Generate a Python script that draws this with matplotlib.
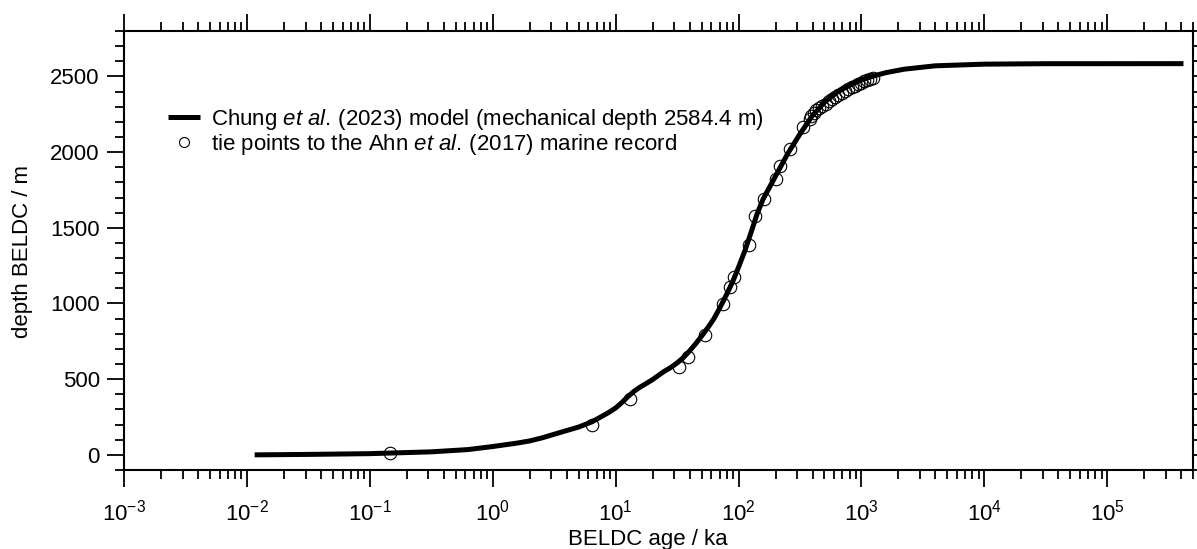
import numpy as np
import matplotlib
matplotlib.use("Agg")
import matplotlib.pyplot as plt
from matplotlib.ticker import (LogLocator, LogFormatterMathtext, MultipleLocator,
                               NullFormatter, FixedLocator)

plt.rcParams['font.family'] = ['Liberation Sans', 'DejaVu Sans']
plt.rcParams['mathtext.fontset'] = 'custom'
plt.rcParams['mathtext.rm'] = 'Liberation Sans'
plt.rcParams['mathtext.it'] = 'Liberation Sans:italic'
plt.rcParams['mathtext.bf'] = 'Liberation Sans:bold'

# Model curve (Chung et al. 2023): age in ka (read at log10 positions), depth in m
model_log_age = [-1.937, -1.5, -1.0, -0.5, -0.2, 0.0, 0.2, 0.3, 0.4, 0.549, 0.7, 0.807, 0.9,
                 0.95, 1.0, 1.05, 1.1, 1.15, 1.2, 1.25, 1.3, 1.39, 1.45, 1.5, 1.55, 1.6,
                 1.65, 1.7, 1.75, 1.8, 1.85, 1.9,
                 1.95, 2.0, 2.05, 2.1, 2.15, 2.2, 2.3, 2.4, 2.5, 2.6, 2.7, 2.8, 2.9,
                 3.0, 3.1, 3.2, 3.35, 3.6, 4.0, 4.5, 5.62]
model_depth = [0, 3, 8, 20, 35, 55, 78, 92, 112, 148, 184, 218, 260,
               283, 310, 345, 385, 420, 448, 472, 497, 549, 578, 607, 642, 685,
               733, 785, 840, 900, 975, 1055,
               1140, 1240, 1345, 1465, 1590, 1690, 1840, 1990, 2120, 2240, 2330, 2395, 2440,
               2478, 2503, 2525, 2548, 2570, 2581, 2584, 2584.4]
model_age = [10 ** v for v in model_log_age]

# Tie points to the Ahn et al. (2017) marine record
tie_age = [0.146, 6.4, 13.2, 32.6, 38.5, 53.7, 74.8, 85.9, 91.4, 121, 135, 162.5,
           202, 219, 260, 336, 380, 390, 410, 430, 455, 480, 510, 540, 575, 610,
           650, 690, 730, 780, 830, 880, 930, 990, 1050, 1110, 1180, 1250]
tie_depth = [15, 198, 367, 582, 648, 792, 994, 1110, 1172, 1385, 1578, 1689,
             1825, 1906, 2023, 2166, 2216, 2240, 2260, 2275, 2290, 2305, 2320, 2335, 2350, 2365,
             2380, 2392, 2403, 2415, 2427, 2437, 2447, 2458, 2467, 2475, 2482, 2487]

x_major_ticks = [1e-3, 1e-2, 1e-1, 1e0, 1e1, 1e2, 1e3, 1e4, 1e5]

labels = ['Chung $\\mathit{et\\ al.}\\,$(2023) model (mechanical depth 2584.4 m)',
          'tie points to the Ahn $\\mathit{et\\ al.}\\,$(2017) marine record']

W, H = 1197, 549
fig = plt.figure(figsize=(W / 100, H / 100), dpi=100)
L, R, T, B = 124, 1193.2, 31, 470
ax = fig.add_axes([L / W, (H - B) / H, (R - L) / W, (B - T) / H])

ax.plot(model_age, model_depth, color='black', lw=3.6, solid_capstyle='butt',
        solid_joinstyle='round', label=labels[0], zorder=2)
ax.plot(tie_age, tie_depth, ls='none', marker='o', ms=9, mfc='none', mec='black',
        mew=0.8, label=labels[1], zorder=3)

ax.set_xscale('log')
ax.set_xlim(1e-3, 5e5)
ax.set_ylim(-100, 2800)

ax.xaxis.set_major_locator(FixedLocator(x_major_ticks))
ax.xaxis.set_minor_locator(LogLocator(base=10, subs=np.arange(2, 10), numticks=200))
ax.xaxis.set_major_formatter(LogFormatterMathtext())
ax.xaxis.set_minor_formatter(NullFormatter())
ax.yaxis.set_major_locator(MultipleLocator(500))
ax.yaxis.set_minor_locator(MultipleLocator(100))

for s in ax.spines.values():
    s.set_linewidth(1.5)
ax.tick_params(which='both', direction='out', top=True, right=True, width=1.3,
               labelsize=16)
ax.tick_params(which='major', length=12)
ax.tick_params(which='minor', length=6.5)
ax.tick_params(axis='x', which='major', pad=9)
ax.tick_params(axis='y', which='major', pad=5.5)

ax.set_xlabel('BELDC age / ka', fontsize=16)
ax.set_ylabel('depth BELDC / m', fontsize=16)
ax.xaxis.set_label_coords((647.5 - L) / (R - L), -0.135)
ax.yaxis.set_label_coords(-0.085, 0.497)

leg = ax.legend(loc='upper left', bbox_to_anchor=(168 / W, 1 - 107 / H),
                bbox_transform=fig.transFigure, frameon=False, fontsize=16,
                borderpad=0, borderaxespad=0, labelspacing=0.0,
                handlelength=1.45, handletextpad=0.5, markerscale=0.8)

fig.savefig('out.png', dpi=100)
